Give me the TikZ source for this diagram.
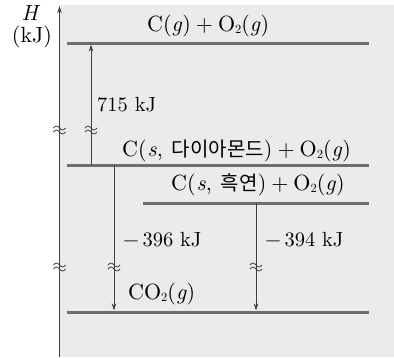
\documentclass[tikz,border=0pt]{standalone}
\usepackage{fontspec}
\setmainfont{lmroman10-regular.otf}[ItalicFont=lmroman10-italic.otf,BoldFont=lmroman10-bold.otf]
\newfontfamily\kr{Noto Sans CJK KR}
\usetikzlibrary{arrows.meta}
\definecolor{bgc}{HTML}{EBEBED}
\definecolor{lvc}{HTML}{6E6E6E}
\definecolor{lnc}{HTML}{404040}
\newcommand\ita[1]{{\itshape #1\/}}
\newcommand\subtwo{\raisebox{-2pt}{\fontsize{12.5}{12.5}\selectfont 2}}
\newcommand\pl{\kern5pt+\kern5pt}
\newcommand\krt[1]{{\kr\fontsize{20}{21}\selectfont #1}}
\tikzset{
  level/.style={line width=3pt,color=lvc},
  conn/.style={line width=0.9pt,color=lnc,-{Stealth[length=7pt,width=4.5pt]}},
  lbl/.style={inner sep=0pt,anchor=base west,font=\fontsize{22}{24}\selectfont,text=black},
  num/.style={inner sep=0pt,anchor=base west,font=\fontsize{20.5}{24}\selectfont,text=black},
  brk/.pic={\draw[line width=0.8pt,color=lnc] (-6,-2) sin (-3,-4) cos (0,-2) sin (3,0) cos (6,-2);
            \draw[line width=0.8pt,color=lnc] (-6,2) sin (-3,0) cos (0,2) sin (3,4) cos (6,2);}
}
\begin{document}
\begin{tikzpicture}[x=1pt,y=-1pt]
\useasboundingbox (0,0) rectangle (394,357);
\fill[bgc] (59,5) rectangle (394,357);
% axis
\coordinate (ax0) at (59.5,357);
\coordinate (ax1) at (59.5,6);
\draw[conn] (ax0) -- (ax1);
\node[lbl,anchor=base] (H) at (31,20) {\ita{H}};
\node[lbl,anchor=base] (kJ) at (32,42) {(kJ)};
% levels
\coordinate (tL) at (67,43);  \coordinate (tR) at (369,43);
\coordinate (dL) at (67,165); \coordinate (dR) at (369,165);
\coordinate (gL) at (143,203); \coordinate (gR) at (369,203);
\coordinate (cL) at (67,312); \coordinate (cR) at (369,312);
\draw[level] (tL) -- (tR);
\draw[level] (dL) -- (dR);
\draw[level] (gL) -- (gR);
\draw[level] (cL) -- (cR);
% labels
\node[lbl] (Lt) at (147,31) {C(\ita{g})\pl O\subtwo(\ita{g})};
\node[lbl] (Ld) at (122,156) {C(\kern1pt\ita{s},\hspace{9pt}\krt{다이아몬드})\pl O\subtwo(\ita{g})};
\node[lbl] (Lg) at (171,190) {C(\kern1pt\ita{s},\hspace{9pt}\krt{흑연})\pl O\subtwo(\ita{g})};
\node[lbl] (Lc) at (128,299) {CO\subtwo(\ita{g})};
% arrows
\coordinate (a1s) at (91,165); \coordinate (a1e) at (91,44.5);
\coordinate (a2s) at (114,165); \coordinate (a2e) at (114,310.5);
\coordinate (a3s) at (256,203); \coordinate (a3e) at (256,310.5);
\draw[conn] (a1s) -- (a1e);
\draw[conn] (a2s) -- (a2e);
\draw[conn] (a3s) -- (a3e);
\node[num] (v1) at (97,111) {715 kJ};
\node[num] (v2) at (123,246) {−\,396 kJ};
\node[num] (v3) at (265,246) {−\,394 kJ};
% breaks
\pic at (59.5,130) {brk};
\pic at (91,130) {brk};
\pic at (59.5,267) {brk};
\pic at (114,267) {brk};
\pic at (256,267) {brk};
\end{tikzpicture}
\end{document}
